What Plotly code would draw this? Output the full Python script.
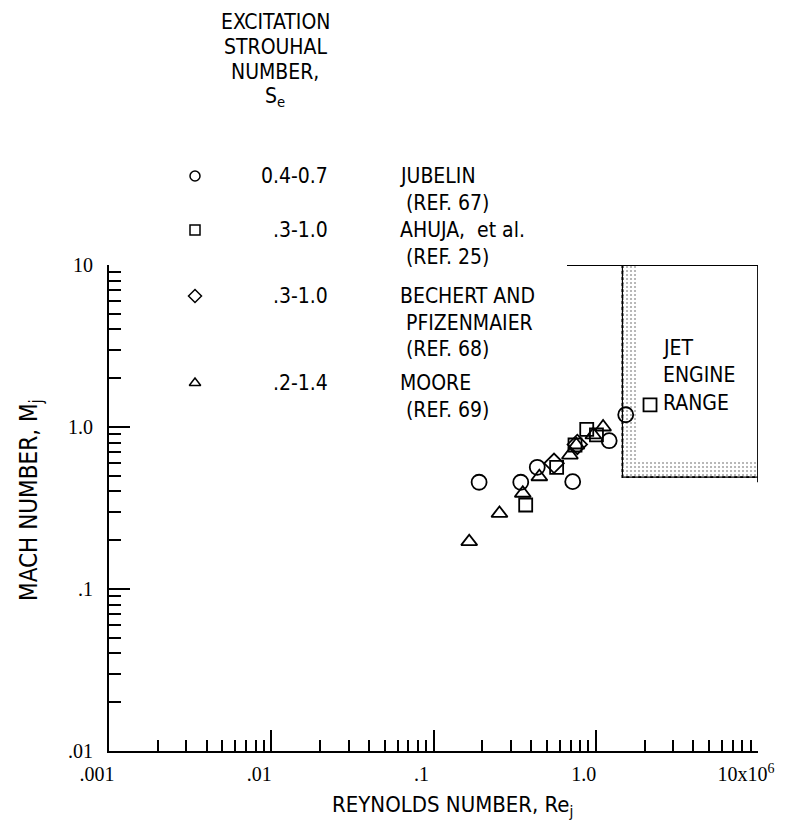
import plotly.graph_objects as go

# ---------------- data ----------------
# Reynolds number (x10^6) and Mach number for each source
jub_re = [0.191, 0.345, 0.436, 0.721, 1.21, 1.53]
jub_m = [0.456, 0.456, 0.564, 0.46, 0.823, 1.19]
ahu_re = [0.37, 0.574, 0.745, 0.88, 1.01, 2.16]
ahu_m = [0.33, 0.564, 0.774, 0.968, 0.893, 1.37]
bec_re = [0.553, 0.77]
bec_m = [0.597, 0.78]
moo_re = [0.166, 0.255, 0.355, 0.449, 0.693, 0.76, 0.966, 1.11]
moo_m = [0.196, 0.293, 0.39, 0.493, 0.671, 0.774, 0.893, 1.0]

# jet engine range box
jet_re = [1.46, 10.0]
jet_m = [0.49, 10.0]
frame_top_re_start = 0.665

# tick labels
x_tickvals = [0.001, 0.01, 0.1, 1, 10]
x_ticktext = [".001", ".01", ".1", "1.0", "10x10<sup>6</sup>"]
y_tickvals = [0.01, 0.1, 1, 10]
y_ticktext = [".01", ".1", "1.0", "10"]

legend_symbols = ["circle-open", "square-open", "diamond-open", "triangle-up-open"]
legend_ranges = ["0.4-0.7", ".3-1.0", ".3-1.0", ".2-1.4"]
legend_authors = [["JUBELIN", "(REF. 67)"],
                  ["AHUJA,  et al.", "(REF. 25)"],
                  ["BECHERT AND", "PFIZENMAIER", "(REF. 68)"],
                  ["MOORE", "(REF. 69)"]]
header_lines = ["EXCITATION", "STROUHAL", "NUMBER,", "S<sub>e</sub>"]
jet_lines = ["JET", "ENGINE", "RANGE"]

# ---------------- layout geometry (page pixels) ----------------
OFF = 8                      # default body margin of the html page
W, H = 797 - 2 * OFF, 837 - 2 * OFF
L, R, T, B = 109 - OFF, 758 - OFF, 265 - OFF, 751 - OFF

def px(x):
    return x - OFF

def py(y):
    return y - OFF

SANS = "Liberation Sans Narrow, DejaVu Sans Condensed, Arial Narrow, sans-serif"
SERIF = "Liberation Serif, DejaVu Serif, serif"

minor_x = [m * 10 ** e for e in range(-3, 1) for m in range(2, 10)]
minor_y = [m * 10 ** e for e in range(-2, 1) for m in range(2, 10)]

fig = go.Figure()

# stippled band inside jet engine box
band_x = [jet_re[0], jet_re[0] * 1.23, jet_re[0] * 1.23, jet_re[1], jet_re[1], jet_re[0], jet_re[0]]
band_y = [jet_m[1], jet_m[1], jet_m[0] * 1.24, jet_m[0] * 1.24, jet_m[0], jet_m[0], jet_m[1]]
fig.add_trace(go.Scatter(x=band_x, y=band_y, mode="lines", fill="toself",
                         fillcolor="rgba(0,0,0,0)",
                         fillpattern=dict(shape=".", fgcolor="#a0a0a0", bgcolor="rgba(0,0,0,0)",
                                          size=4, solidity=0.2),
                         line=dict(width=0), hoverinfo="skip", showlegend=False))
# jet engine box outline
fig.add_trace(go.Scatter(x=[frame_top_re_start, jet_re[1], jet_re[1]],
                         y=[jet_m[1], jet_m[1], jet_m[0] * 0.93],
                         mode="lines", line=dict(color="black", width=1.8),
                         hoverinfo="skip", showlegend=False))
fig.add_trace(go.Scatter(x=[jet_re[0], jet_re[0], jet_re[1]],
                         y=[jet_m[1], jet_m[0], jet_m[0]],
                         mode="lines", line=dict(color="black", width=1.8, dash="dot"),
                         hoverinfo="skip", showlegend=False))
fig.add_trace(go.Scatter(x=[jet_re[0], jet_re[0], jet_re[1]],
                         y=[jet_m[1], jet_m[0], jet_m[0]],
                         mode="lines", line=dict(color="black", width=1.2),
                         hoverinfo="skip", showlegend=False))

mk_line = dict(color="black", width=1.8)
for xs, ys, sym, sz in [(jub_re, jub_m, "circle-open", 15),
                        (ahu_re, ahu_m, "square-open", 13),
                        (bec_re, bec_m, "diamond-open", 15),
                        (moo_re, moo_m, "triangle-up-open", 14)]:
    fig.add_trace(go.Scatter(x=xs, y=ys, mode="markers",
                             marker=dict(symbol=sym, size=sz, color="black", line=mk_line),
                             showlegend=False))

# legend key markers on pixel overlay axes
leg_rows_y = [176, 230, 296, 383]
for sym, yy in zip(legend_symbols, leg_rows_y):
    fig.add_trace(go.Scatter(x=[px(195)], y=[py(yy)], xaxis="x2", yaxis="y2", mode="markers",
                             marker=dict(symbol=sym, size=10, color="black",
                                         line=dict(color="black", width=1.5)),
                             showlegend=False, hoverinfo="skip"))

ann = []
def txt(x, y, s, anchor="left", size=21, font=SANS, angle=0):
    ann.append(dict(x=px(x), y=py(y), xref="x2", yref="y2", text=s, showarrow=False,
                    xanchor=anchor, yanchor="middle", textangle=angle, borderpad=0,
                    font=dict(family=font, size=size, color="black")))

for s, yy in zip(header_lines, [22, 47, 72, 97]):
    txt(275, yy, s, anchor="center")
line_h = 26.5
for rng, auth, yy in zip(legend_ranges, legend_authors, leg_rows_y):
    txt(329, yy, rng, anchor="right")
    for i, a in enumerate(auth):
        txt(399 if i == 0 else 405, yy + i * line_h, a)
for s, yy in zip(jet_lines, [348, 375, 403]):
    txt(662, yy, s)
txt(452, 806, "REYNOLDS NUMBER, Re<sub>j</sub>", anchor="center", size=22)
txt(30, 500, "MACH NUMBER, M<sub>j</sub>", anchor="center", angle=-90, size=24)

axis_common = dict(showline=True, linecolor="black", linewidth=2, ticks="inside",
                   tickcolor="black", tickwidth=1.5, ticklen=21, showgrid=False,
                   zeroline=False, type="log", automargin=False,
                   tickfont=dict(family=SERIF, size=20, color="black"))

fig.update_layout(
    template="none",
    width=W, height=H, margin=dict(l=0, r=0, t=0, b=0, autoexpand=False),
    paper_bgcolor="white", plot_bgcolor="rgba(0,0,0,0)",
    xaxis=dict(axis_common, domain=[L / W, R / W], range=[-3, 1], anchor="y",
               tickmode="array", tickvals=x_tickvals, ticktext=x_ticktext,
               ticklabelshift=-12, ticklabelstandoff=4,
               minor=dict(tickmode="array", tickvals=minor_x, ticks="inside", ticklen=11,
                          tickwidth=1.5, tickcolor="black", showgrid=False)),
    yaxis=dict(axis_common, domain=[1 - B / H, 1 - T / H], range=[-2, 1], anchor="x",
               tickmode="array", tickvals=y_tickvals, ticktext=y_ticktext,
               ticklabelstandoff=10,
               minor=dict(tickmode="array", tickvals=minor_y, ticks="inside", ticklen=12,
                          tickwidth=1.5, tickcolor="black", showgrid=False)),
    xaxis2=dict(domain=[0, 1], range=[0, W], visible=False, anchor="y2",
                fixedrange=True, automargin=False),
    yaxis2=dict(domain=[0, 1], range=[H, 0], visible=False, anchor="x2",
                fixedrange=True, automargin=False),
    annotations=ann,
    showlegend=False,
)

fig.write_html("out.html")
